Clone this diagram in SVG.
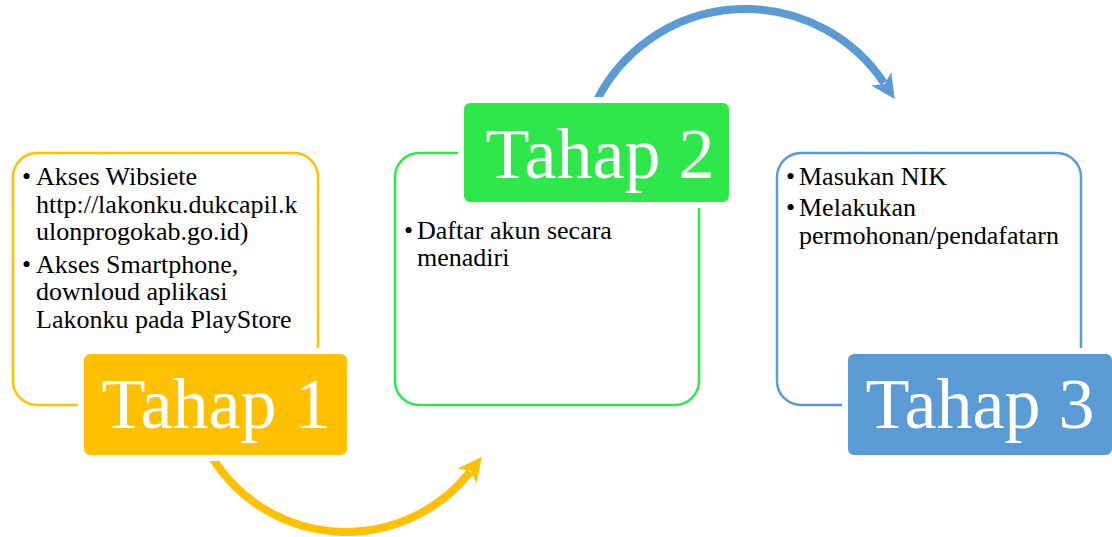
<svg xmlns="http://www.w3.org/2000/svg" width="1112" height="537" viewBox="0 0 1112 537">
<style>
.outline{fill:#fff;stroke-width:2.5}
.label{stroke:#fff;stroke-width:6}
.big{font-family:"Liberation Serif","Times New Roman",serif;font-size:72px;fill:#fff;text-anchor:middle}
.body{font-family:"Liberation Serif","Times New Roman",serif;font-size:26px;fill:#000}
.arc{fill:none;stroke-width:8}
</style>
<defs>
<marker id="ay" viewBox="0 0 10 10" refX="2" refY="5" markerWidth="24" markerHeight="24" markerUnits="userSpaceOnUse" orient="auto"><path d="M0,0 L10,5 L0,10 L2.5,5 Z" fill="#FFC000"/></marker>
<marker id="ab" viewBox="0 0 10 10" refX="2" refY="5" markerWidth="24" markerHeight="24" markerUnits="userSpaceOnUse" orient="auto"><path d="M0,0 L10,5 L0,10 L2.5,5 Z" fill="#5B9BD5"/></marker>
</defs>
<g id="connectors">
<path class="arc" stroke="#FFC000" d="M213,459 A158,158 0 0,0 470,472" marker-end="url(#ay)"/>
<path class="arc" stroke="#5B9BD5" d="M597,100 A166.7,166.7 0 0,1 884,83" marker-end="url(#ab)"/>
</g>
<g id="node1">
<rect class="outline" x="13" y="153" width="305" height="252" rx="24" stroke="#FFC000"/>
<text class="body"><tspan x="22" y="185">•</tspan><tspan x="36" y="185">Akses Wibsiete</tspan><tspan x="36" y="212.5">http://lakonku.dukcapil.k</tspan><tspan x="36" y="240">ulonprogokab.go.id)</tspan><tspan x="22" y="272.5">•</tspan><tspan x="36" y="272.5">Akses Smartphone,</tspan><tspan x="36" y="300">downloud aplikasi</tspan><tspan x="36" y="327.5">Lakonku pada PlayStore</tspan></text>
<rect class="label" x="81" y="351" width="269" height="107" rx="9" fill="#FFC000"/>
<text class="big" x="216" y="428">Tahap 1</text>
</g>
<g id="node2">
<rect class="outline" x="395" y="153" width="304" height="252" rx="24" stroke="#2EE84A"/>
<text class="body"><tspan x="404" y="239">•</tspan><tspan x="417" y="239">Daftar akun secara</tspan><tspan x="417" y="266">menadiri</tspan></text>
<rect class="label" x="461" y="100" width="271" height="105" rx="9" fill="#2EE84A"/>
<text class="big" x="600" y="178">Tahap 2</text>
</g>
<g id="node3">
<rect class="outline" x="777" y="153" width="304" height="252" rx="24" stroke="#5B9BD5"/>
<text class="body"><tspan x="786" y="184.5">•</tspan><tspan x="799" y="184.5">Masukan NIK</tspan><tspan x="786" y="216">•</tspan><tspan x="799" y="216">Melakukan</tspan><tspan x="799" y="243.5">permohonan/pendafatarn</tspan></text>
<rect class="label" x="845" y="351" width="270" height="107" rx="9" fill="#5B9BD5"/>
<text class="big" x="980" y="428">Tahap 3</text>
</g>
</svg>
